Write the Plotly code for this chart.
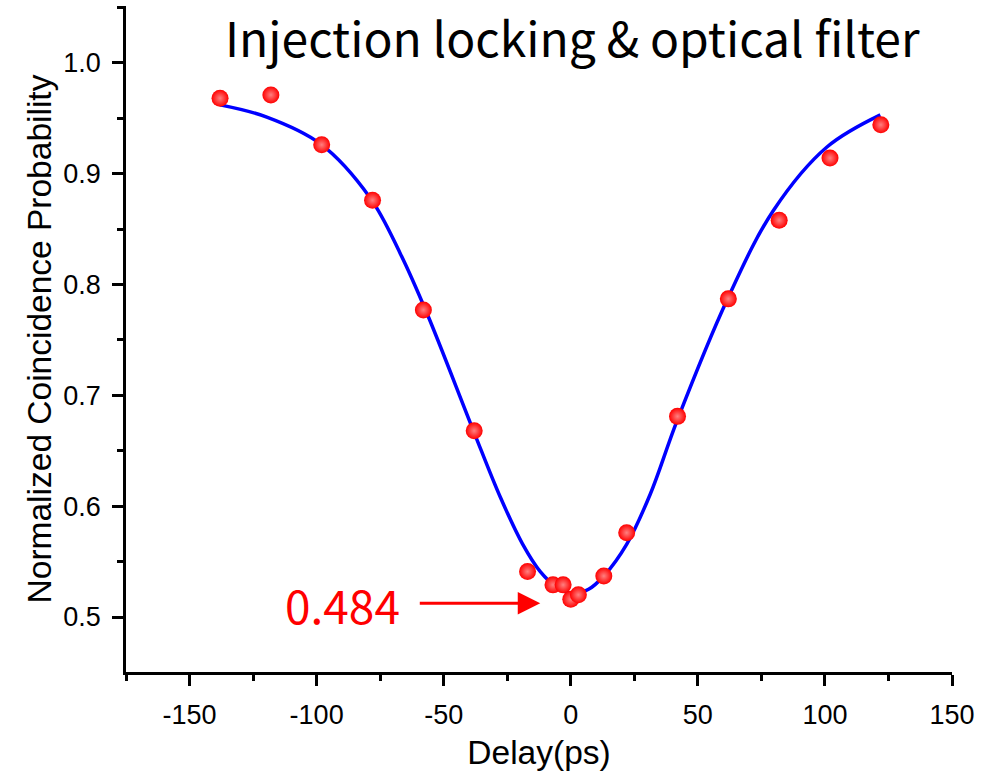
import plotly.graph_objects as go

# Measured coincidence probability vs. delay
delay_ps = [-138, -118, -98, -78, -58, -38, -17, -7, -3, 0, 3, 13, 22, 42, 62, 82, 102, 122]
coincidence = [0.968, 0.971, 0.926, 0.876, 0.777, 0.668, 0.541, 0.529, 0.529, 0.516,
               0.520, 0.537, 0.576, 0.681, 0.787, 0.858, 0.914, 0.944]

# Fitted dip curve (sampled)
fit_delay = [-138.0, -119.6, -98.6, -78.9, -67.1, -56.6, -38.3, -27.7, -19.0, -12.0, -5.5,
             1.1, 7.0, 13.0, 22.1, 31.3, 41.8, 61.5, 79.8, 100.8, 121.8]
fit_value = [0.962, 0.951, 0.927, 0.878, 0.828, 0.774, 0.668, 0.608, 0.566, 0.541, 0.527,
             0.521, 0.525, 0.537, 0.566, 0.611, 0.677, 0.786, 0.867, 0.924, 0.953]

x_tick_vals = [-150, -100, -50, 0, 50, 100, 150]
x_tick_text = ["-150", "-100", "-50", "0", "50", "100", "150"]
y_tick_vals = [0.5, 0.6, 0.7, 0.8, 0.9, 1.0]
y_tick_text = ["0.5", "0.6", "0.7", "0.8", "0.9", "1.0"]

visibility_text = "0.484"
title_text = "Injection locking &amp; optical filter"

fig = go.Figure()

fig.add_trace(go.Scatter(
    x=fit_delay, y=fit_value, mode="lines",
    line=dict(color="#0000ff", width=3.5, shape="spline", smoothing=1.0),
    hoverinfo="skip", showlegend=False,
))

fig.add_trace(go.Scatter(
    x=delay_ps, y=coincidence, mode="markers",
    marker=dict(size=17, color="#ff0000",
                gradient=dict(type="radial", color="#ff8080"),
                line=dict(width=0)),
    showlegend=False,
))

axis_font = dict(family="Liberation Sans, Arial, sans-serif", size=27, color="black")
title_font = dict(family="Liberation Sans, Arial, sans-serif", size=33.5, color="black")

fig.update_xaxes(
    range=[-175, 150], showline=True, linecolor="black", linewidth=2.5,
    ticks="outside", ticklen=11, tickwidth=2.5, tickcolor="black",
    tickvals=x_tick_vals, ticktext=x_tick_text, tickfont=axis_font,
    ticklabelstandoff=6,
    minor=dict(ticks="outside", ticklen=6, tickwidth=2.5, tickcolor="black", dtick=25, tick0=-175, showgrid=False),
    showgrid=False, zeroline=False,
    title=dict(text="Delay(ps)", font=title_font, standoff=12),
)
fig.update_yaxes(
    range=[0.4504, 1.0512], showline=True, linecolor="black", linewidth=2.5,
    ticks="outside", ticklen=11, tickwidth=2.5, tickcolor="black",
    tickvals=y_tick_vals, ticktext=y_tick_text, tickfont=axis_font,
    ticklabelstandoff=6,
    minor=dict(ticks="outside", ticklen=6, tickwidth=2.5, tickcolor="black", dtick=0.05, tick0=0.45, showgrid=False),
    showgrid=False, zeroline=False,
    title=dict(text="Normalized Coincidence Probability", font=title_font, standoff=2),
)

fig.add_annotation(
    x=-12, y=0.5124, ax=-60, ay=0.5124, axref="x", ayref="y", xref="x", yref="y",
    text="", showarrow=True, arrowhead=2, arrowsize=1.5, arrowwidth=3, arrowcolor="#ff0000",
    standoff=0, startstandoff=0,
)
fig.add_annotation(
    x=-89.9, y=0.5115, xref="x", yref="y", text=visibility_text, showarrow=False,
    font=dict(family="Noto Sans CJK SC, sans-serif", size=46, color="#ff0000"),
    xanchor="center", yanchor="middle",
)
fig.add_annotation(
    x=0.541, y=1.0, xref="paper", yref="paper", yshift=6, text=title_text, showarrow=False,
    font=dict(family="Noto Sans CJK SC, sans-serif", size=48, color="black"),
    xanchor="center", yanchor="top", borderpad=0,
)

fig.update_layout(
    width=1002, height=781,
    margin=dict(l=126, r=50, t=6, b=109),
    plot_bgcolor="white", paper_bgcolor="white",
)

fig.write_html("out.html")
